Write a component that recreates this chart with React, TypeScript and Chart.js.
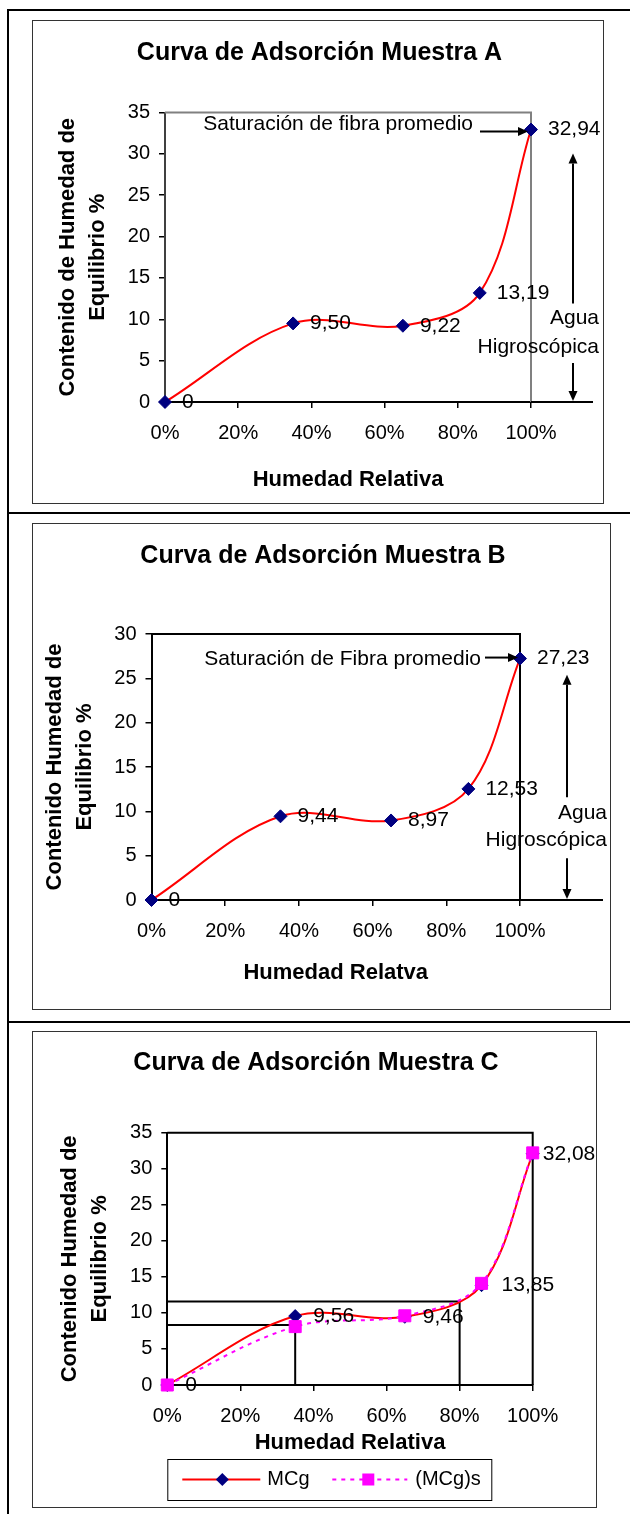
import React, { useEffect, useRef } from 'react';
import { Chart, registerables } from 'chart.js';
Chart.register(...registerables);

// ---------- data ----------
const HUMEDAD_RELATIVA = [0, 35, 65, 86, 100];
const MC_MUESTRA_A = [0, 9.5, 9.22, 13.19, 32.94];
const MC_MUESTRA_B = [0, 9.44, 8.97, 12.53, 27.23];
const MC_MUESTRA_C = [0, 9.56, 9.46, 13.85, 32.08];
const MC_MUESTRA_C_S = [0, 8.1, 9.6, 14.1, 32.2];
const GUIA_C_HR = [35, 80];
const GUIA_C_MC = [8.33, 11.6];
const X_STEP = 20;
const Y_STEP = 5;

const FONT = '"Liberation Sans", Arial, Helvetica, sans-serif';
const RED = '#FF0000';
const NAVY = '#000080';
const MAGENTA = '#FF00FF';
const TENSION = 0.35;

const pts = (ys: number[]) => HUMEDAD_RELATIVA.map((x, i) => ({ x, y: ys[i] }));
const fmt = (v: number) => (v === 0 ? '0' : v.toFixed(2).replace('.', ','));

const mcgDataset = (ys: number[], order = 1) => ({
  label: 'MCg',
  data: pts(ys),
  borderColor: RED,
  backgroundColor: RED,
  borderWidth: 2,
  tension: TENSION,
  pointStyle: 'rectRot',
  pointRadius: 6.5,
  pointBackgroundColor: NAVY,
  pointBorderColor: NAVY,
  pointBorderWidth: 1,
  clip: false,
  order,
});

type Ann = {
  text: string; textRight: number; textDy: number;
  arrowFrom: number; arrowTo: number; arrowDy: number;
  vx: number; vTop: number; vUpBottom: number; vDownTop: number;
  aguaY: number; higroY: number; wordsRight: number; axisExt: number;
};

type Spec = {
  key: string; title: string; titleX: number; titleY: number;
  xTitle: string; xTitleOffset: number; yTitle: string[];
  left: number; top: number; width: number; height: number;
  plot: { left: number; top: number; right: number; bottom: number };
  frame: { left: number; top: number; width: number; height: number };
  yMax: number; yBorder: string; xBorder: string; frameColor: string;
  labelDx: number[];
  datasets: any[]; ann?: Ann; legend?: boolean;
};

const SPECS: Spec[] = [
  {
    key: 'A', title: 'Curva de Adsorción Muestra A', titleX: 286.5, titleY: 32,
    xTitle: 'Humedad Relativa', xTitleOffset: 78,
    yTitle: ['Contenido de Humedad de', 'Equilibrio %'],
    left: 33, top: 21, width: 570, height: 482,
    plot: { left: 132, top: 91.5, right: 498, bottom: 381 },
    frame: { left: 32, top: 20, width: 572, height: 484 },
    yMax: 35, yBorder: '#404040', xBorder: '#000', frameColor: '#808080',
    labelDx: [17, 17, 17, 17, 17],
    datasets: [mcgDataset(MC_MUESTRA_A)],
    ann: {
      text: 'Saturación de fibra promedio', textRight: -58, textDy: -5,
      arrowFrom: -51, arrowTo: -3, arrowDy: 2,
      vx: 42, vTop: 30.05, vUpBottom: 11.9, vDownTop: 4.7,
      aguaY: 10.1, higroY: 6.6, wordsRight: 68, axisExt: 62,
    },
  },
  {
    key: 'B', title: 'Curva de Adsorción Muestra B', titleX: 290, titleY: 32,
    xTitle: 'Humedad Relatva', xTitleOffset: 73,
    yTitle: ['Contenido Humedad de', 'Equilibrio %'],
    left: 33, top: 524, width: 577, height: 485,
    plot: { left: 118.5, top: 110, right: 487, bottom: 376 },
    frame: { left: 32, top: 523, width: 579, height: 487 },
    yMax: 30, yBorder: '#000', xBorder: '#000', frameColor: '#000',
    labelDx: [17, 17, 17, 17, 17],
    datasets: [mcgDataset(MC_MUESTRA_B)],
    ann: {
      text: 'Saturación de Fibra promedio', textRight: -39, textDy: 0.5,
      arrowFrom: -35, arrowTo: -2, arrowDy: -1,
      vx: 47, vTop: 25.4, vUpBottom: 11.6, vDownTop: 4.7,
      aguaY: 9.8, higroY: 6.8, wordsRight: 87, axisExt: 83,
    },
  },
  {
    key: 'C', title: 'Curva de Adsorción Muestra C', titleX: 283, titleY: 31,
    xTitle: 'Humedad Relativa', xTitleOffset: 58,
    yTitle: ['Contenido Humedad de', 'Equilibrio %'],
    left: 33, top: 1032, width: 563, height: 475,
    plot: { left: 134.3, top: 100.7, right: 499.7, bottom: 353 },
    frame: { left: 32, top: 1031, width: 565, height: 477 },
    yMax: 35, yBorder: '#000', xBorder: '#000', frameColor: '#000',
    labelDx: [18, 18, 18, 20, 10],
    datasets: [
      mcgDataset(MC_MUESTRA_C, 2),
      {
        label: '(MCg)s',
        data: pts(MC_MUESTRA_C_S),
        borderColor: MAGENTA,
        backgroundColor: MAGENTA,
        borderWidth: 2,
        borderDash: [4, 5],
        tension: TENSION,
        pointStyle: 'rect',
        pointRadius: 8.5,
        pointBackgroundColor: MAGENTA,
        pointBorderColor: MAGENTA,
        pointBorderWidth: 1,
        clip: false,
        order: 1,
      },
      ...GUIA_C_HR.map((hr, i) => ({
        label: 'guia' + i,
        data: [
          { x: 0, y: GUIA_C_MC[i] },
          { x: hr, y: GUIA_C_MC[i] },
          { x: hr, y: 0 },
        ],
        borderColor: '#000',
        borderWidth: 2,
        pointRadius: 0,
        tension: 0,
        clip: false,
        order: 3,
      })),
    ],
    legend: true,
  },
];

function drawArrow(ctx: CanvasRenderingContext2D, x1: number, y1: number, x2: number, y2: number) {
  const head = 10, half = 4.5;
  const ang = Math.atan2(y2 - y1, x2 - x1);
  const bx = x2 - head * Math.cos(ang), by = y2 - head * Math.sin(ang);
  ctx.beginPath();
  ctx.moveTo(x1, y1);
  ctx.lineTo(bx, by);
  ctx.stroke();
  ctx.beginPath();
  ctx.moveTo(x2, y2);
  ctx.lineTo(bx + half * Math.sin(ang), by - half * Math.cos(ang));
  ctx.lineTo(bx - half * Math.sin(ang), by + half * Math.cos(ang));
  ctx.closePath();
  ctx.fill();
}

function diamond(ctx: CanvasRenderingContext2D, x: number, y: number, r: number, c: string) {
  ctx.fillStyle = c;
  ctx.beginPath();
  ctx.moveTo(x, y - r);
  ctx.lineTo(x + r, y);
  ctx.lineTo(x, y + r);
  ctx.lineTo(x - r, y);
  ctx.closePath();
  ctx.fill();
}

function decor(spec: Spec) {
  return {
    id: 'decor' + spec.key,
    beforeDatasetsDraw(chart: any) {
      const { ctx, chartArea: a } = chart;
      ctx.save();
      ctx.strokeStyle = spec.frameColor;
      ctx.lineWidth = 2;
      ctx.beginPath();
      ctx.moveTo(a.left, a.top);
      ctx.lineTo(a.right, a.top);
      ctx.lineTo(a.right, a.bottom);
      ctx.stroke();
      if (spec.ann) {
        ctx.strokeStyle = '#000';
        ctx.beginPath();
        ctx.moveTo(a.right, a.bottom);
        ctx.lineTo(a.right + spec.ann.axisExt, a.bottom);
        ctx.stroke();
      }
      ctx.restore();
    },
    afterDatasetsDraw(chart: any) {
      const { ctx } = chart;
      const ys = chart.scales.y;
      ctx.save();
      ctx.fillStyle = '#000';
      ctx.font = `21px ${FONT}`;
      ctx.textAlign = 'left';
      ctx.textBaseline = 'middle';
      const idx = chart.data.datasets.findIndex((d: any) => d.label === 'MCg');
      const meta = chart.getDatasetMeta(idx);
      const vals = chart.data.datasets[idx].data;
      meta.data.forEach((p: any, i: number) => {
        ctx.fillText(fmt(vals[i].y), p.x + spec.labelDx[i], p.y);
      });
      const ann = spec.ann;
      if (ann) {
        const last = meta.data[meta.data.length - 1];
        const px = last.x, py = last.y;
        ctx.textAlign = 'right';
        ctx.fillText(ann.text, px + ann.textRight, py + ann.textDy);
        ctx.strokeStyle = '#000';
        ctx.fillStyle = '#000';
        ctx.lineWidth = 2;
        drawArrow(ctx, px + ann.arrowFrom, py + ann.arrowDy, px + ann.arrowTo, py + ann.arrowDy);
        const vx = px + ann.vx;
        drawArrow(ctx, vx, ys.getPixelForValue(ann.vUpBottom), vx, ys.getPixelForValue(ann.vTop));
        drawArrow(ctx, vx, ys.getPixelForValue(ann.vDownTop), vx, ys.getPixelForValue(0) - 1);
        ctx.fillText('Agua', px + ann.wordsRight, ys.getPixelForValue(ann.aguaY));
        ctx.fillText('Higroscópica', px + ann.wordsRight, ys.getPixelForValue(ann.higroY));
      }
      ctx.restore();
    },
    afterDraw(chart: any) {
      const { ctx, chartArea: a } = chart;
      ctx.save();
      ctx.fillStyle = '#000';
      ctx.textAlign = 'center';
      ctx.textBaseline = 'middle';
      ctx.font = `bold 25px ${FONT}`;
      ctx.fillText(spec.title, spec.titleX, spec.titleY);
      ctx.font = `bold 22px ${FONT}`;
      ctx.fillText(spec.xTitle, (a.left + a.right) / 2, a.bottom + spec.xTitleOffset);
      const cy = (a.top + a.bottom) / 2;
      spec.yTitle.forEach((line, i) => {
        ctx.save();
        ctx.translate(a.left - 97 + i * 30, cy);
        ctx.rotate(-Math.PI / 2);
        ctx.fillText(line, 0, 0);
        ctx.restore();
      });
      if (spec.legend) {
        const bx = a.left, by = a.bottom + 74, bw = 324, bh = 41;
        const ly = by + bh / 2;
        ctx.fillStyle = '#fff';
        ctx.fillRect(bx, by, bw, bh);
        ctx.strokeStyle = '#000';
        ctx.lineWidth = 1;
        ctx.strokeRect(bx + 0.5, by + 0.5, bw, bh);
        const d0 = chart.data.datasets[0];
        const d1 = chart.data.datasets[1];
        ctx.strokeStyle = d0.borderColor;
        ctx.lineWidth = 2;
        ctx.beginPath();
        ctx.moveTo(bx + 15, ly);
        ctx.lineTo(bx + 93, ly);
        ctx.stroke();
        diamond(ctx, bx + 55, ly, 6.5, d0.pointBackgroundColor);
        ctx.strokeStyle = d1.borderColor;
        ctx.setLineDash(d1.borderDash);
        ctx.beginPath();
        ctx.moveTo(bx + 165, ly);
        ctx.lineTo(bx + 240, ly);
        ctx.stroke();
        ctx.setLineDash([]);
        ctx.fillStyle = d1.pointBackgroundColor;
        ctx.fillRect(bx + 195, ly - 6, 12, 12);
        ctx.fillStyle = '#000';
        ctx.font = `20px ${FONT}`;
        ctx.textAlign = 'left';
        ctx.fillText(d0.label, bx + 100, ly);
        ctx.fillText(d1.label, bx + 248, ly);
      }
      ctx.restore();
    },
  };
}

function buildConfig(spec: Spec): any {
  const X_H = 40;
  return {
    type: 'line',
    data: { datasets: spec.datasets },
    options: {
      responsive: false,
      animation: false,
      devicePixelRatio: 1,
      events: [],
      layout: {
        padding: {
          left: 0,
          top: spec.plot.top,
          right: spec.width - spec.plot.right,
          bottom: spec.height - spec.plot.bottom - X_H,
        },
      },
      plugins: { legend: { display: false }, tooltip: { enabled: false }, title: { display: false } },
      scales: {
        x: {
          type: 'linear',
          min: 0,
          max: 100,
          afterFit: (s: any) => { s.height = X_H; },
          ticks: {
            stepSize: X_STEP,
            callback: (v: any) => v + '%',
            color: '#000',
            font: { size: 20, family: FONT },
            padding: 13,
            maxRotation: 0,
            autoSkip: false,
          },
          grid: { drawOnChartArea: false, drawTicks: true, tickLength: 6, color: '#000', lineWidth: 1.5 },
          border: { color: spec.xBorder, width: 2 },
        },
        y: {
          type: 'linear',
          min: 0,
          max: spec.yMax,
          afterFit: (s: any) => { s.width = spec.plot.left; },
          ticks: {
            stepSize: Y_STEP,
            color: '#000',
            font: { size: 20, family: FONT },
            padding: 9,
          },
          grid: { drawOnChartArea: false, drawTicks: true, tickLength: 6, color: '#000', lineWidth: 1.5 },
          border: { color: spec.yBorder, width: 2 },
        },
      },
    },
    plugins: [decor(spec)],
  };
}

function ChartCanvas({ spec }: { spec: Spec }) {
  const ref = useRef<HTMLCanvasElement>(null);
  useEffect(() => {
    const chart = new Chart(ref.current as HTMLCanvasElement, buildConfig(spec));
    return () => chart.destroy();
  }, [spec]);
  return (
    <canvas
      ref={ref}
      width={spec.width}
      height={spec.height}
      style={{ position: 'absolute', left: spec.left, top: spec.top, width: spec.width, height: spec.height }}
    />
  );
}

const line = (left: number, top: number, width: number, height: number) => (
  <div style={{ position: 'absolute', left, top, width, height, background: '#000' }} />
);

export default function App() {
  return (
    <div style={{ position: 'absolute', left: 0, top: 0, width: 630, height: 1514, background: '#fff', overflow: 'hidden' }}>
      {line(7, 9, 623, 2)}
      {line(7, 9, 2, 1505)}
      {line(7, 512, 623, 2)}
      {line(7, 1021, 623, 2)}
      {SPECS.map((s) => (
        <div
          key={'f' + s.key}
          style={{
            position: 'absolute',
            left: s.frame.left,
            top: s.frame.top,
            width: s.frame.width,
            height: s.frame.height,
            boxSizing: 'border-box',
            border: '1px solid #333',
          }}
        />
      ))}
      {SPECS.map((s) => (
        <ChartCanvas key={s.key} spec={s} />
      ))}
    </div>
  );
}
